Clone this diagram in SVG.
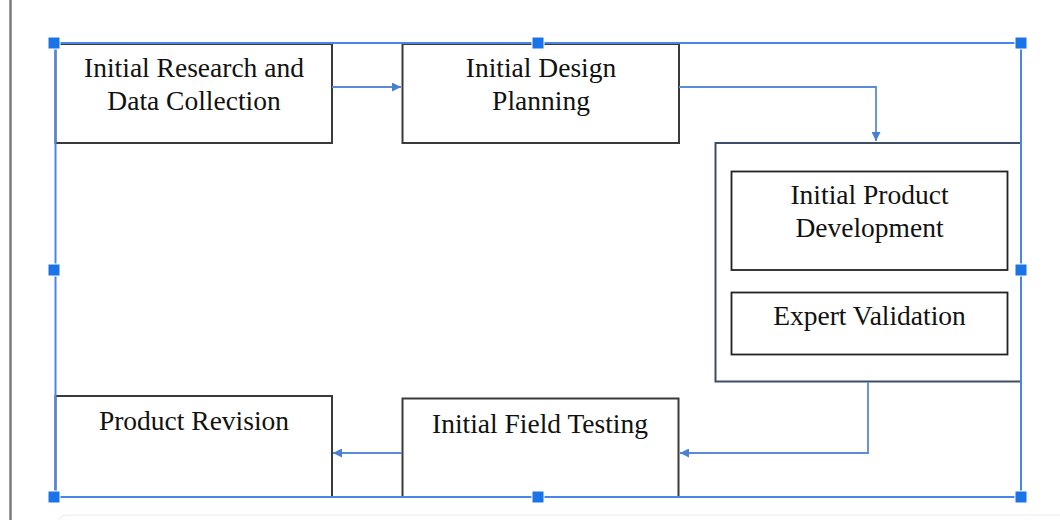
<svg xmlns="http://www.w3.org/2000/svg" width="1060" height="520" viewBox="0 0 1060 520">
<style>
.lbl{font-family:"Liberation Serif","Times New Roman",serif;font-size:27.5px;fill:#111;text-anchor:middle}
.box{fill:#fff;stroke:#3a3a3a;stroke-width:2}
.inner{fill:#fff;stroke:#222;stroke-width:1.8}
.cont{fill:#fff;stroke:#3f4d66;stroke-width:2}
.conn{fill:none;stroke:#5b8bd9;stroke-width:1.8}
.sel{fill:none;stroke:#4a86e8;stroke-width:2}
.h{fill:#1a73e8;stroke:#fff;stroke-width:1}
</style>
<defs>
<marker id="ah" viewBox="0 0 10 10" refX="10" refY="5" markerWidth="5" markerHeight="5" orient="auto" markerUnits="strokeWidth">
<path d="M0,0 L10,5 L0,10 z" fill="#4a7fd4"/>
</marker>
</defs>
<rect width="1060" height="520" fill="#fff"/>
<line x1="10.5" y1="0" x2="10.5" y2="520" stroke="#7a7a7a" stroke-width="2.5"/>
<rect x="58" y="515" width="1010" height="30" rx="8" fill="#fdfdfd" stroke="#ececec" stroke-width="1"/>

<g id="node-research">
<rect class="box" x="55.5" y="44" width="276.5" height="99"/>
<text class="lbl" x="194" y="77">Initial Research and</text>
<text class="lbl" x="194" y="110">Data Collection</text>
</g>
<g id="node-design">
<rect class="box" x="402.5" y="44" width="276.5" height="99"/>
<text class="lbl" x="541" y="77">Initial Design</text>
<text class="lbl" x="541" y="110">Planning</text>
</g>
<g id="node-group">
<rect class="cont" x="715.5" y="143" width="305.5" height="238.5"/>
</g>
<g id="node-development">
<rect class="inner" x="731.5" y="171.5" width="276" height="98.5"/>
<text class="lbl" x="869.5" y="204">Initial Product</text>
<text class="lbl" x="869.5" y="237">Development</text>
</g>
<g id="node-validation">
<rect class="inner" x="731.5" y="292.5" width="276" height="62"/>
<text class="lbl" x="869.5" y="325">Expert Validation</text>
</g>
<g id="node-field">
<rect class="box" x="402.5" y="398.5" width="276" height="98.5"/>
<text class="lbl" x="540" y="432.5">Initial Field Testing</text>
</g>
<g id="node-revision">
<rect class="box" x="55.5" y="396" width="276.5" height="101"/>
<text class="lbl" x="194" y="430">Product Revision</text>
</g>

<g id="connectors">
<path class="conn" d="M332,87 L401,87" marker-end="url(#ah)"/>
<path class="conn" d="M679,87 L876,87 L876,141" marker-end="url(#ah)"/>
<path class="conn" d="M868,382 L868,453 L680,453" marker-end="url(#ah)"/>
<path class="conn" d="M402,453 L333,453" marker-end="url(#ah)"/>
</g>

<g id="selection">
<rect class="sel" x="55.5" y="43" width="965.5" height="454"/>
<rect class="h" x="48" y="37" width="12" height="12"/>
<rect class="h" x="532" y="37" width="12" height="12"/>
<rect class="h" x="1015" y="37" width="12" height="12"/>
<rect class="h" x="48" y="264" width="12" height="12"/>
<rect class="h" x="1015" y="264" width="12" height="12"/>
<rect class="h" x="48" y="491" width="12" height="12"/>
<rect class="h" x="532" y="491" width="12" height="12"/>
<rect class="h" x="1015" y="491" width="12" height="12"/>
</g>
</svg>
